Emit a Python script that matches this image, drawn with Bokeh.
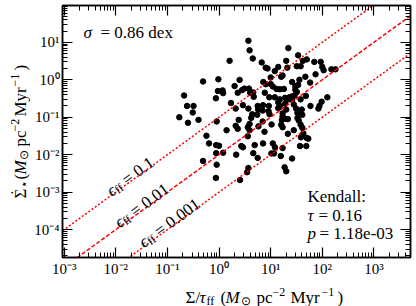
import math
from bokeh.plotting import figure
from bokeh.layouts import row, column
from bokeh.models import (LogAxis, FixedTicker, CustomJSTickFormatter, Label, Range1d)
from bokeh.embed import file_html
from bokeh.resources import INLINE

# ---------------- data ----------------
sigma_over_tff = [
    3.7, 3.9, 4.5, 22, 1.6, 6.7, 8.0, 8.7, 20, 34, 42, 50, 32, 38, 70, 93, 100, 106, 74, 150,
    180, 14, 12, 17, 16, 10, 21, 26, 36, 34, 30, 58, 47, 7.2, 8.0, 10, 0.49, 0.97, 2.5, 2.0,
    0.95, 1.17, 1.2, 0.87, 3.1, 3.8, 2.8, 2.3, 4.0, 4.6, 4.7, 11, 15, 18, 13, 30, 32, 29, 26, 48,
    38, 7.7, 12, 19, 9.4, 23, 26, 15, 14, 22, 125, 97, 88, 84, 59, 28, 19, 15, 14, 9.2,
    7.1, 5.6, 3.7, 2.9, 2.1, 1.7, 5.7, 7.0, 9.1, 20, 31, 40, 33, 17, 5.5, 4.4, 4.2, 17, 19, 21.5,
    33, 41, 9.5, 16.5, 2.4, 7.0, 5.8, 10.4, 16, 17, 35, 38, 41, 3.9, 3.6, 3.9, 2.1, 2.3, 0.9, 1.4,
    0.57, 0.64, 0.88, 2.7, 2.9, 4.9, 7.1, 11, 21.5, 28, 43, 50, 37, 49, 38.5, 53.5, 17, 26, 0.88, 1.2,
    2.15, 4.6, 5.6, 10.3, 11.6, 15.7, 12.1, 3.6, 7.6, 0.21, 0.24, 0.32, 0.31, 0.17, 0.25, 0.40,
    0.49, 0.9, 0.87, 1.0, 3.7, 3.5, 2.55, 18.6, 20,
]
sfr_surface_density = [
    11, 6.1, 3.7, 7.0, 3.2, 2.9, 2.1, 2.0, 3.2, 4.5, 3.2, 3.5, 2.3, 2.3, 3.0, 3.0, 2.2, 1.8, 1.4, 1.9,
    1.9, 2.2, 1.7, 1.3, 1.2, 1.15, 2.1, 0.87, 1.0, 0.73, 0.66, 0.84, 1.2, 0.87, 0.76, 0.77, 0.9, 1.03, 0.99, 0.68,
    0.5, 0.52, 0.44, 0.32, 0.58, 0.58, 0.53, 0.45, 0.45, 0.46, 0.35, 0.66, 0.56, 0.57, 0.57, 0.54, 0.47, 0.38, 0.36, 0.37,
    0.30, 0.45, 0.34, 0.33, 0.34, 0.34, 0.29, 0.30, 0.25, 0.30, 0.34, 0.26, 0.20, 0.17, 0.20, 0.22, 0.23, 0.20, 0.175, 0.20,
    0.21, 0.20, 0.17, 0.21, 0.17, 0.24, 0.16, 0.15, 0.145, 0.16, 0.17, 0.16, 0.13, 0.126, 0.116, 0.12, 0.096, 0.105, 0.091, 0.089,
    0.095, 0.116, 0.12, 0.085, 0.085, 0.077, 0.057, 0.064, 0.063, 0.054, 0.082, 0.063, 0.052, 0.066, 0.054, 0.045, 0.059, 0.049, 0.077, 0.045,
    0.032, 0.020, 0.018, 0.017, 0.0157, 0.018, 0.020, 0.020, 0.036, 0.045, 0.037, 0.028, 0.017, 0.017, 0.029, 0.0267, 0.015, 0.0079, 0.011, 0.0113,
    0.010, 0.011, 0.0082, 0.0108, 0.0108, 0.0092, 0.0157, 0.031, 0.041, 0.38, 0.20, 0.20, 0.134, 0.10, 0.071, 0.085,
    0.0068, 0.0054, 0.0024, 0.0173, 0.0044, 0.0034, 0.0021, 0.0046, 0.0036,
]

eps_values = [0.1, 0.01, 0.001]
eps_texts = ["0.1", "0.01", "0.001"]
eps_label_x = [0.0080, 0.0115, 0.034]          # where each efficiency label sits along its line
eps_dashes = ["2 2", "4 2", "2 2"]

x_tick_values = [1e-3, 1e-2, 1e-1, 1e0, 1e1, 1e2, 1e3]
x_tick_labels = ["10\u207b\u00b3", "10\u207b\u00b2", "10\u207b\u00b9", "10\u2070", "10\u00b9", "10\u00b2", "10\u00b3"]
y_tick_values = [1e-4, 1e-3, 1e-2, 1e-1, 1e0, 1e1]
y_tick_labels = ["10\u207b\u2074", "10\u207b\u00b3", "10\u207b\u00b2", "10\u207b\u00b9", "10\u2070", "10\u00b9"]

scatter_text = "= 0.86 dex"
kendall_tau_text = "= 0.16"
kendall_p_text = "= 1.18e-03"

X_RANGE = (9.3e-4, 5.1e3)
Y_RANGE = (1.8e-5, 96.0)

# ---------------- layout (page is 416 x 306, Bokeh page has no margin) ----------------
YLAB_W = 30                      # strip for the rotated y label
MAIN_W, MAIN_H = 416 - YLAB_W, 279
XLAB_H = 306 - MAIN_H            # strip for the x label
ML, MR, MT = 62 - YLAB_W, 6, 5
MB = MAIN_H - 259
FRAME_W = MAIN_W - ML - MR
FRAME_H = MAIN_H - MT - MB
FONT = "Liberation Serif"

p = figure(width=MAIN_W, height=MAIN_H, x_axis_type="log", y_axis_type="log",
           x_range=Range1d(*X_RANGE), y_range=Range1d(*Y_RANGE),
           toolbar_location=None, output_backend="svg",
           min_border_left=ML, min_border_right=MR, min_border_top=MT, min_border_bottom=MB)
p.grid.visible = False
p.outline_line_color = "black"
p.outline_line_width = 1.5
p.background_fill_color = "white"
p.border_fill_color = "white"


def minor_list(lo, hi):
    return [m * 10.0 ** k for k in range(lo, hi) for m in range(2, 10)]


x_minor = minor_list(-4, 4)
y_minor = minor_list(-5, 2)


def style_axis(ax):
    ax.major_tick_in = 10
    ax.major_tick_out = 0
    ax.minor_tick_in = 5
    ax.minor_tick_out = 0
    ax.major_tick_line_width = 1.2
    ax.minor_tick_line_width = 1.0
    ax.axis_line_width = 1.5
    ax.major_label_text_font = FONT
    ax.major_label_text_font_size = "15px"
    ax.major_label_text_color = "black"
    ax.axis_label = None


fmt_code = """
const lt = Math.log10(tick);
for (let i = 0; i < vals.length; i++) {
  if (Math.abs(Math.log10(vals[i]) - lt) < 1e-6) return labels[i];
}
return "";
"""

xa = p.xaxis[0]
xa.ticker = FixedTicker(ticks=x_tick_values, minor_ticks=x_minor)
xa.formatter = CustomJSTickFormatter(args=dict(vals=x_tick_values, labels=x_tick_labels), code=fmt_code)
style_axis(xa)
xa.major_label_standoff = 3

ya = p.yaxis[0]
ya.ticker = FixedTicker(ticks=y_tick_values, minor_ticks=y_minor)
ya.formatter = CustomJSTickFormatter(args=dict(vals=y_tick_values, labels=y_tick_labels), code=fmt_code)
style_axis(ya)
ya.major_label_standoff = 3

for side in ("above", "right"):
    if side == "above":
        tk = FixedTicker(ticks=x_tick_values, minor_ticks=x_minor)
    else:
        tk = FixedTicker(ticks=y_tick_values, minor_ticks=y_minor)
    ax = LogAxis(ticker=tk, formatter=CustomJSTickFormatter(code="return '';"))
    style_axis(ax)
    ax.major_label_standoff = 0
    p.add_layout(ax, side)

# ---------------- glyphs ----------------
p.scatter(x=sigma_over_tff, y=sfr_surface_density, size=5.5, color="black", line_color="black")

line_x = list(X_RANGE)
for eps, dash in zip(eps_values, eps_dashes):
    p.line(x=line_x, y=[eps * v for v in line_x], line_color="#ff0000", line_width=1.5, line_dash=dash)

# slope of the y = eps * x lines on screen
px_per_dec_x = FRAME_W / (math.log10(X_RANGE[1]) - math.log10(X_RANGE[0]))
px_per_dec_y = FRAME_H / (math.log10(Y_RANGE[1]) - math.log10(Y_RANGE[0]))
theta = math.atan2(px_per_dec_y, px_per_dec_x)


def add_along(x0, y0, text, s, d, size, italic=False):
    dx = s * math.cos(theta) - d * math.sin(theta)
    dy = s * math.sin(theta) + d * math.cos(theta)
    p.add_layout(Label(x=x0, y=y0, x_offset=dx, y_offset=dy, text=text, angle=theta,
                       text_font=FONT, text_font_size=f"{size}px",
                       text_font_style="italic" if italic else "normal",
                       text_align="left", text_baseline="alphabetic", text_color="black"))


for eps, txt, x0 in zip(eps_values, eps_texts, eps_label_x):
    y0 = eps * x0
    add_along(x0, y0, "\u03f5", 0, 4, 17, italic=True)
    add_along(x0, y0, "ff", 7, 1, 12)
    add_along(x0, y0, "= " + txt, 19, 4, 17)


# ---------------- screen-positioned texts (page coordinates) ----------------
def make_adder(fig, left_page, bottom_page):
    def add(text, px, py, size=16, italic=False, angle=0.0):
        fig.add_layout(Label(x=px - left_page, y=bottom_page - py,
                             x_units="screen", y_units="screen", text=text, angle=angle,
                             text_font=FONT, text_font_size=f"{size}px",
                             text_font_style="italic" if italic else "normal",
                             text_align="left", text_baseline="alphabetic", text_color="black"))
    return add


add_main = make_adder(p, 62, 259)
add_main("\u03c3", 83, 34, 17, italic=True)
add_main(scatter_text, 100, 34, 17)
add_main("Kendall:", 307, 198, 17)
add_main("\u03c4", 307, 217, 17, italic=True)
add_main(kendall_tau_text, 318, 217, 17)
add_main("p", 307, 235, 17, italic=True)
add_main(kendall_p_text, 319, 235, 17)


def strip(w, h):
    f = figure(width=w, height=h, toolbar_location=None, output_backend="svg",
               x_axis_location=None, y_axis_location=None, min_border=0,
               x_range=Range1d(0, w), y_range=Range1d(0, h))
    f.grid.visible = False
    f.outline_line_color = None
    f.background_fill_color = "white"
    f.border_fill_color = "white"
    return f


# (text, position along the label, shift off the baseline: + = down/sub, - = up/sup, size, italic)
x_unit_parts = [("(", 188, 0, 17, False), ("M", 193, 0, 17, True), ("\u2299", 208, 3, 12, False),
                ("pc", 224, 0, 17, False), ("\u22122", 240, -6, 12, False), ("Myr", 258, 0, 17, False),
                ("\u22121", 289, -6, 12, False), (")", 305, 0, 17, False)]
y_unit_parts = [("(", 179, 0, 17, False), ("M", 174, 0, 17, True), ("\u2299", 159, 3, 12, False),
                ("pc", 146, 0, 17, False), ("\u22122", 131, -6, 12, False), ("Myr", 116, 0, 17, False),
                ("\u22121", 86, -6, 12, False), (")", 70, 0, 17, False)]

# x axis label: Σ/τ_ff (M_⊙ pc^-2 Myr^-1)
xfig = strip(MAIN_W, XLAB_H)
add_x = make_adder(xfig, YLAB_W, 306)
XB = 297
add_x("\u03a3/", 153, XB, 17)
add_x("\u03c4", 167, XB, 17, italic=True)
add_x("ff", 174, XB + 3, 12)
for t, s, dv, sz, it in x_unit_parts:
    add_x(t, s, XB + dv, sz, italic=it)

# y axis label (rotated, reads upwards): Σ̇_⋆ (M_⊙ pc^-2 Myr^-1)
yfig = strip(YLAB_W, 306)
add_y = make_adder(yfig, 0, 306)
YB = 20
VERT = math.pi / 2
add_y("\u03a3", YB, 198, 17, angle=VERT)
add_y("\u02d9", YB - 4, 195, 17, angle=VERT)
add_y("\u22c6", YB + 3, 187, 12, angle=VERT)
for t, s, dv, sz, it in y_unit_parts:
    add_y(t, YB + dv, s, sz, italic=it, angle=VERT)

layout = row(yfig, column(p, xfig, spacing=0), spacing=0)
open("out.html", "w").write(file_html(layout, INLINE))
